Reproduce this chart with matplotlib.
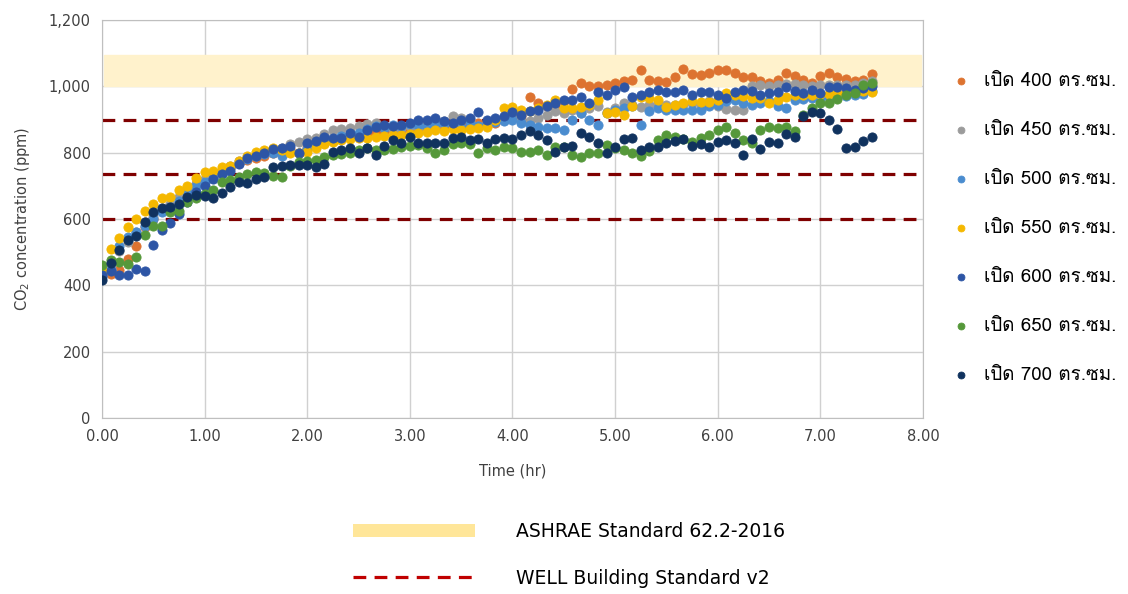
import matplotlib
matplotlib.use('Agg')
import matplotlib.pyplot as plt
import numpy as np
from matplotlib.patches import Patch
from matplotlib.lines import Line2D
from matplotlib.ticker import FuncFormatter, MultipleLocator

# time step 5 min, 0 .. 7.5 hr
n_points = 91
labels = ['เปิด 400 ตร.ซม.', 'เปิด 450 ตร.ซม.', 'เปิด 500 ตร.ซม.', 'เปิด 550 ตร.ซม.',
          'เปิด 600 ตร.ซม.', 'เปิด 650 ตร.ซม.', 'เปิด 700 ตร.ซม.']
colors = ['#DD7330', '#9B9B9B', '#4A8CCF', '#F5B800', '#2D55A5', '#55983A', '#10325E']

s400 = [428, 435, 446, 480, 518, 575, 600, 625, 640, 660, 685, 705, 715, 728, 745, 755,
        768, 778, 785, 790, 798, 805, 812, 800, 815, 822, 830, 835, 842, 848, 852, 858,
        862, 866, 870, 868, 872, 875, 878, 880, 875, 882, 880, 885, 888, 893, 890, 900,
        905, 910, 968, 950, 940, 945, 955, 992, 1010, 1000, 1000, 1005, 1010, 1016, 1019, 1049,
        1020, 1015, 1013, 1028, 1052, 1037, 1034, 1040, 1049, 1049, 1040, 1028, 1028, 1015, 1010, 1020,
        1040, 1031, 1019, 1010, 1031, 1040, 1028, 1022, 1015, 1020, 1037]
s450 = [432, 448, 505, 530, 560, 590, 605, 625, 645, 665, 690, 705, 720, 730, 748, 760,
        775, 785, 790, 800, 810, 815, 825, 832, 840, 845, 855, 868, 870, 875, 880, 885,
        890, 880, 872, 875, 880, 878, 884, 878, 895, 912, 905, 895, 880, 890, 895, 905,
        910, 900, 895, 905, 915, 925, 919, 928, 919, 934, 940, 923, 935, 949, 945, 938,
        945, 950, 944, 944, 948, 950, 940, 955, 940, 931, 929, 929, 1001, 1003, 1000, 1005,
        1007, 1007, 1005, 1000, 1003, 1005, 1003, 1005, 1003, 1010, 1015]
s500 = [425, 445, 520, 546, 561, 580, 600, 620, 635, 655, 680, 700, 712, 725, 740, 755,
        770, 780, 790, 795, 800, 790, 805, 800, 812, 820, 830, 838, 850, 855, 860, 870,
        880, 875, 883, 880, 885, 883, 878, 885, 890, 880, 875, 885, 880, 890, 892, 895,
        900, 890, 883, 878, 874, 874, 868, 900, 919, 900, 883, 920, 930, 935, 940, 883,
        925, 935, 929, 929, 929, 929, 929, 940, 945, 955, 960, 950, 945, 950, 955, 940,
        934, 958, 962, 965, 966, 968, 970, 972, 974, 978, 985]
s550 = [445, 509, 543, 576, 600, 625, 645, 663, 665, 686, 700, 723, 742, 745, 758, 760,
        775, 790, 802, 808, 814, 808, 800, 799, 802, 814, 825, 832, 838, 840, 844, 845,
        847, 850, 853, 853, 856, 859, 862, 868, 866, 870, 868, 872, 874, 877, 900, 934,
        938, 930, 925, 935, 944, 959, 934, 934, 938, 945, 959, 919, 922, 913, 940, 968,
        965, 959, 938, 945, 950, 955, 953, 953, 958, 980, 975, 970, 965, 965, 950, 960,
        968, 974, 974, 974, 976, 978, 980, 980, 982, 985, 983]
s600 = [430, 443, 431, 431, 449, 443, 522, 567, 588, 615, 650, 680, 700, 720, 735, 745,
        765, 785, 790, 800, 810, 815, 820, 799, 829, 835, 847, 844, 844, 859, 847, 868,
        877, 883, 880, 883, 890, 898, 900, 904, 895, 889, 898, 904, 922, 898, 904, 910,
        922, 915, 925, 929, 940, 950, 959, 959, 968, 950, 983, 974, 990, 998, 968, 975,
        983, 989, 983, 983, 989, 974, 983, 983, 974, 965, 983, 990, 985, 975, 980, 983,
        998, 985, 980, 990, 980, 998, 998, 995, 990, 995, 1000]
s650 = [461, 476, 470, 464, 485, 552, 579, 579, 621, 624, 651, 662, 675, 687, 711, 717,
        728, 735, 742, 738, 731, 727, 760, 772, 775, 778, 786, 792, 796, 799, 808, 814,
        808, 808, 812, 818, 820, 822, 815, 799, 808, 825, 828, 826, 799, 814, 808, 817,
        814, 802, 802, 808, 793, 817, 817, 793, 787, 799, 799, 823, 814, 808, 799, 790,
        805, 838, 853, 847, 840, 832, 844, 853, 868, 877, 859, 838, 829, 868, 877, 874,
        877, 865, 915, 934, 950, 950, 962, 974, 980, 1004, 1010]
s700 = [416, 467, 506, 537, 549, 591, 621, 633, 636, 645, 666, 672, 669, 663, 678, 696,
        711, 708, 720, 727, 757, 760, 763, 763, 763, 757, 766, 802, 808, 814, 799, 814,
        793, 820, 838, 829, 847, 829, 829, 829, 829, 844, 847, 838, 841, 829, 841, 844,
        841, 853, 865, 853, 838, 802, 817, 820, 859, 847, 829, 799, 817, 841, 844, 808,
        817, 817, 829, 835, 841, 820, 826, 817, 832, 838, 829, 793, 841, 811, 832, 829,
        856, 847, 910, 922, 919, 898, 871, 814, 817, 835, 847]
series = [s400, s450, s500, s550, s600, s650, s700]

time_hr = np.arange(n_points) / 12.0

well_levels = [600, 735, 900]
ashrae_low, ashrae_high = 1000, 1095

plt.rcParams['font.family'] = ['DejaVu Sans']
thai_font = ['Loma', 'DejaVu Sans']

fig = plt.figure(figsize=(11.28, 5.94), dpi=100)
ax = fig.add_axes([0.0904, 0.2963, 0.7278, 0.6700])

ax.axhspan(ashrae_low, ashrae_high, xmin=0.002, xmax=0.998, color='#FFF2CC', zorder=1)
for lev in well_levels:
    ax.axhline(lev, color='#7F0000', lw=2.3, ls=(0, (4, 2.6)), zorder=2)

for vals, c, lab in zip(series, colors, labels):
    ax.scatter(time_hr, vals, s=44, color=c, edgecolor=c, linewidths=0.6, zorder=3, label=lab)

ax.set_xlim(0, 8)
ax.set_ylim(0, 1200)
ax.xaxis.set_major_locator(MultipleLocator(1))
ax.yaxis.set_major_locator(MultipleLocator(200))
ax.xaxis.set_major_formatter(FuncFormatter(lambda v, p: '%.2f' % v))
ax.yaxis.set_major_formatter(FuncFormatter(lambda v, p: '{:,.0f}'.format(v)))
ax.grid(True, color='#D0D0D0', lw=1)
ax.set_axisbelow(True)
for sp in ax.spines.values():
    sp.set_color('#BFBFBF')
ax.tick_params(length=0, labelsize=10.5, colors='#404040', pad=8)
ax.set_xlabel('Time (hr)', fontsize=10.5, color='#404040', labelpad=14)
ax.set_ylabel('CO$_2$ concentration (ppm)', fontsize=10.5, color='#404040', labelpad=12)

fig.legend(loc='upper left', bbox_to_anchor=(0.82, 0.908), frameon=False,
           labelspacing=1.66, handletextpad=0.25, markerscale=0.75,
           prop={'family': thai_font, 'size': 13.5})

handles = [Patch(facecolor='#FFE699', edgecolor='none'),
           Line2D([0], [0], color='#C00000', lw=2.3, ls=(0, (4, 2.6)))]
fig.legend(handles, ['ASHRAE Standard 62.2-2016', 'WELL Building Standard v2'],
           loc='upper left', bbox_to_anchor=(0.298, 0.15), frameon=False, fontsize=13.5,
           handlelength=6.5, handletextpad=2.2, labelspacing=1.5)

plt.savefig('out.png', dpi=100)
plt.close()
